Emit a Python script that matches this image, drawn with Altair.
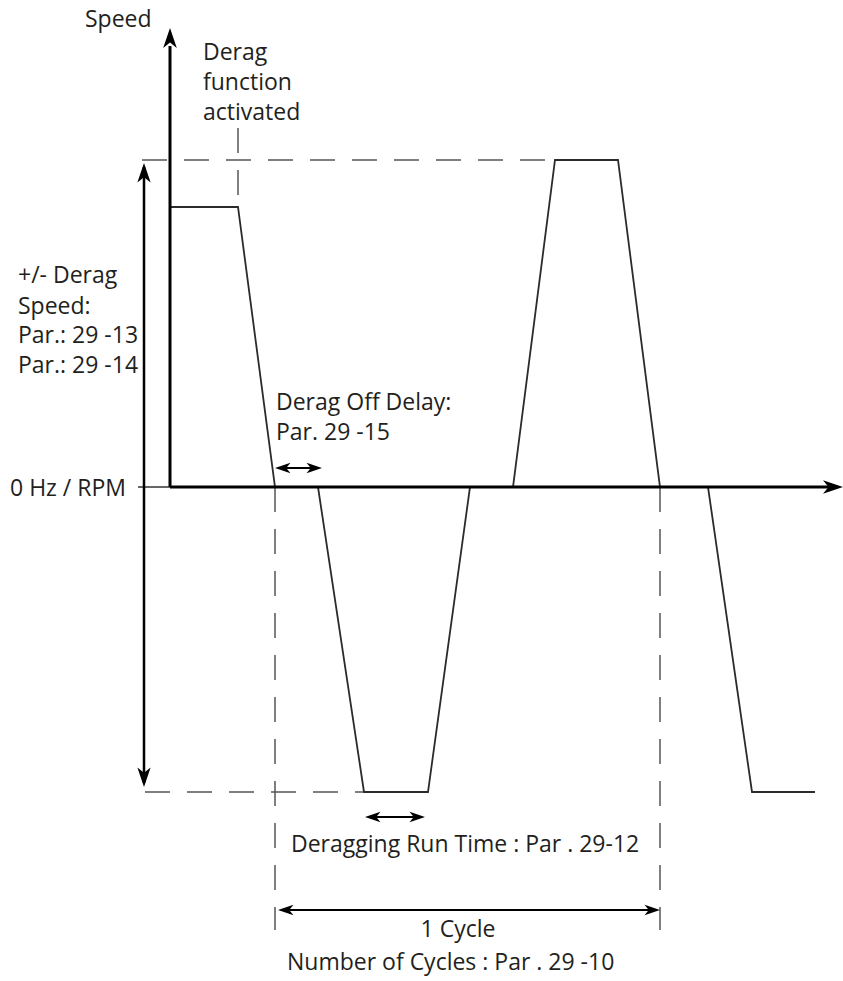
import altair as alt
import pandas as pd

# ---- data (time units along the x axis, speed units along the y axis; origin = 0 Hz at derag start)
wave_t = [0, 68, 105, 148, 194, 258, 300, 343, 385, 448, 490, 538, 582, 645]
wave_speed = [280, 280, 0, 0, -305, -305, 0, 0, 327, 327, 0, 0, -305, -305]

derag_speed_pos = 327
derag_speed_neg = -305
activation_t = 68
cycle_start_t = 105
cycle_end_t = 490
off_delay_end_t = 152
run_start_t = 195
run_end_t = 255

text_left = [
    ("Speed", -85, 460),
    ("Derag", 33, 427),
    ("function", 33, 397),
    ("activated", 33, 367),
    ("+/- Derag", -152, 204),
    ("Speed:", -152, 173),
    ("Par.: 29 -13", -152, 144),
    ("Par.: 29 -14", -152, 114),
    ("Derag Off Delay:", 106, 77),
    ("Par. 29 -15", 106, 47),
    ("Deragging Run Time : Par . 29-12", 121, -365),
    ("Number of Cycles : Par . 29 -10", 117, -483),
]
text_right = [("0 Hz / RPM", -44, -9)]
text_center = [("1 Cycle", 288, -450)]

X = alt.Scale(domain=[-170, 673], nice=False, zero=False)
Y = alt.Scale(domain=[-494, 487], nice=False, zero=False)
INK = "#231f20"
FONT = "Open Sans"
FS = 23


def seg_layer(rows, color, width, dash=None):
    df = pd.DataFrame(rows, columns=["t", "s", "t2", "s2"])
    kw = dict(color=color, strokeWidth=width, strokeCap="butt")
    if dash:
        kw["strokeDash"] = dash
    return alt.Chart(df).mark_rule(**kw).encode(
        x=alt.X("t:Q", scale=X, axis=None),
        y=alt.Y("s:Q", scale=Y, axis=None),
        x2="t2:Q",
        y2="s2:Q",
    )


# waveform
wave_df = pd.DataFrame({"t": wave_t, "s": wave_speed, "o": list(range(len(wave_t)))})
wave = alt.Chart(wave_df).mark_line(color="#2b2b2b", strokeWidth=1.8, strokeJoin="miter").encode(
    x=alt.X("t:Q", scale=X, axis=None),
    y=alt.Y("s:Q", scale=Y, axis=None),
    order="o:Q",
)

# axes
axes = seg_layer([(0, 0, 660, 0), (0, 0, 0, 441)], "#000", 3)
zero_tick = seg_layer([(-32, 0, 0, 0)], "#000", 1.2)

# dashed guides
dashed = seg_layer(
    [
        (-28, derag_speed_pos, wave_t[8], derag_speed_pos),
        (-25, derag_speed_neg, wave_t[4], derag_speed_neg),
        (activation_t, 359, activation_t, wave_speed[1]),
        (cycle_start_t, 0, cycle_start_t, -443),
        (cycle_end_t, 0, cycle_end_t, -443),
    ],
    "#555",
    1.5,
    dash=[25, 17],
)

# double arrows (lines)
a_big = 4
a_sm = 3
arrow_lines = seg_layer(
    [
        (-26, derag_speed_pos - 3 - a_big, -26, derag_speed_neg + 5 + a_big),
    ],
    "#000",
    2.5,
)
arrow_lines_small = seg_layer(
    [
        (cycle_start_t + a_sm, 19, off_delay_end_t - a_sm, 19),
        (run_start_t + a_sm, -330, run_end_t - a_sm, -330),
        (cycle_start_t + 3 + a_sm, -423, cycle_end_t - a_sm, -423),
    ],
    "#000",
    2,
)

HEAD = "M0,0L0.68,2L0,1.45L-0.68,2Z"
heads_df = pd.DataFrame(
    [
        (660 + 13, 0, 90, 400),  # x axis tip
        (0, 459, 0, 400),  # y axis tip
        (-26, derag_speed_pos - 3, 0, 380),
        (-26, derag_speed_neg + 5, 180, 380),
        (cycle_start_t, 19, 270, 240),
        (off_delay_end_t, 19, 90, 240),
        (run_start_t, -330, 270, 240),
        (run_end_t, -330, 90, 240),
        (cycle_start_t + 3, -423, 270, 240),
        (cycle_end_t, -423, 90, 240),
    ],
    columns=["t", "s", "ang", "sz"],
)
heads = alt.Chart(heads_df).mark_point(
    shape=HEAD, filled=True, fill="#000", strokeWidth=0, opacity=1
).encode(
    x=alt.X("t:Q", scale=X, axis=None),
    y=alt.Y("s:Q", scale=Y, axis=None),
    angle=alt.Angle("ang:Q", scale=None),
    size=alt.Size("sz:Q", scale=None),
)


def text_layer(rows, align):
    df = pd.DataFrame(rows, columns=["label", "t", "s"])
    return alt.Chart(df).mark_text(
        align=align, baseline="alphabetic", font=FONT, fontSize=FS, color=INK
    ).encode(
        x=alt.X("t:Q", scale=X, axis=None),
        y=alt.Y("s:Q", scale=Y, axis=None),
        text="label:N",
    )


chart = alt.layer(
    dashed,
    wave,
    axes,
    zero_tick,
    arrow_lines,
    arrow_lines_small,
    heads,
    text_layer(text_left, "left"),
    text_layer(text_right, "right"),
    text_layer(text_center, "center"),
).properties(
    width=843,
    height=981,
    autosize=alt.AutoSizeParams(type="none"),
    padding=0,
    background="white",
).configure_view(stroke=None)

chart.save("out.html", embed_options={"renderer": "svg", "actions": False})
